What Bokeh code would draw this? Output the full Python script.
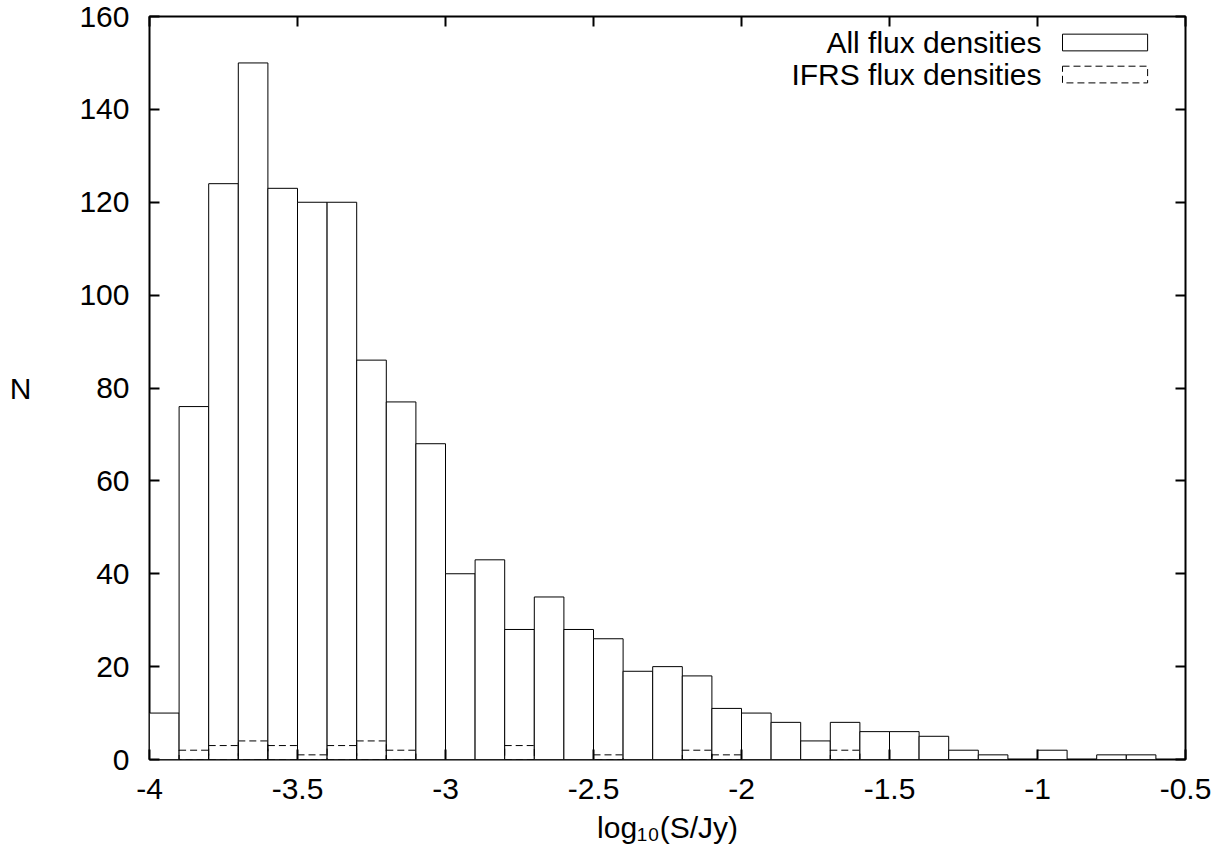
from bokeh.plotting import figure
from bokeh.models import Label, LinearAxis, FixedTicker, Range1d
from bokeh.embed import file_html
from bokeh.resources import INLINE

# ---- data ----
bin_left = [-4.0, -3.9, -3.8, -3.7, -3.6, -3.5, -3.4, -3.3, -3.2, -3.1,
            -3.0, -2.9, -2.8, -2.7, -2.6, -2.5, -2.4, -2.3, -2.2, -2.1,
            -2.0, -1.9, -1.8, -1.7, -1.6, -1.5, -1.4, -1.3, -1.2, -1.1,
            -1.0, -0.9, -0.8, -0.7]
bin_width = 0.1
all_counts = [10, 76, 124, 150, 123, 120, 120, 86, 77, 68,
              40, 43, 28, 35, 28, 26, 19, 20, 18, 11,
              10, 8, 4, 8, 6, 6, 5, 2, 1, 0,
              2, 0, 1, 1]
ifrs_counts = [0, 2, 3, 4, 3, 1, 3, 4, 2, 0,
               0, 0, 3, 0, 0, 1, 0, 0, 2, 1,
               0, 0, 0, 2, 0, 0, 0, 0, 0, 0,
               0, 0, 0, 0]
x_ticks = [-4, -3.5, -3, -2.5, -2, -1.5, -1, -0.5]
x_tick_labels = ["-4", "-3.5", "-3", "-2.5", "-2", "-1.5", "-1", "-0.5"]
y_ticks = [0, 20, 40, 60, 80, 100, 120, 140, 160]
y_tick_labels = ["0", "20", "40", "60", "80", "100", "120", "140", "160"]
series_names = ["All flux densities", "IFRS flux densities"]
y_title = "N"
x_title = "log\u2081\u2080(S/Jy)"

FONT = "Liberation Sans"
FS = "30px"

x0, x1, y0, y1 = -4, -0.5, 0, 160
p = figure(width=1220, height=856, x_range=Range1d(x0, x1), y_range=Range1d(y0, y1),
           output_backend="svg", toolbar_location=None,
           min_border_left=149, min_border_right=35, min_border_top=16, min_border_bottom=97)
p.xgrid.visible = False
p.ygrid.visible = False
p.outline_line_color = "black"
p.outline_line_width = 2
p.outline_line_alpha = 1
p.background_fill_color = "white"
p.border_fill_color = "white"

def style_axis(ax):
    ax.axis_line_color = None
    ax.major_tick_in = 10
    ax.major_tick_out = 0
    ax.major_tick_line_width = 2
    ax.major_tick_line_color = "black"
    ax.minor_tick_line_color = None
    ax.major_label_text_font = FONT
    ax.major_label_text_font_size = FS
    ax.major_label_text_color = "black"
    ax.axis_label_text_font = FONT
    ax.axis_label_text_font_size = FS
    ax.axis_label_text_font_style = "normal"
    ax.axis_label_text_color = "black"

p.xaxis.ticker = FixedTicker(ticks=x_ticks)
p.yaxis.ticker = FixedTicker(ticks=y_ticks)
p.xaxis.major_label_overrides = {t: l for t, l in zip(x_ticks, x_tick_labels)}
p.yaxis.major_label_overrides = {t: l for t, l in zip(y_ticks, y_tick_labels)}
for ax in p.xaxis:
    style_axis(ax)
    ax.major_label_standoff = 19
    ax.axis_label = x_title
    ax.axis_label_standoff = 9
for ax in p.yaxis:
    style_axis(ax)
    ax.major_label_standoff = 20
    ax.axis_label = y_title
    ax.axis_label_orientation = "horizontal"
    ax.axis_label_standoff = 45

top = LinearAxis(ticker=FixedTicker(ticks=x_ticks),
                 major_label_overrides={t: "" for t in x_ticks}, major_label_standoff=0)
style_axis(top)
p.add_layout(top, "above")
right = LinearAxis(ticker=FixedTicker(ticks=y_ticks),
                   major_label_overrides={t: "" for t in y_ticks}, major_label_standoff=0)
style_axis(right)
p.add_layout(right, "right")

# ---- bars ----
lefts = [b for b, c in zip(bin_left, all_counts) if c > 0]
tops = [c for c in all_counts if c > 0]
p.quad(left=lefts, right=[l + bin_width for l in lefts], bottom=0, top=tops,
       fill_color="white", line_color="black", line_width=1)

ilefts = [b for b, c in zip(bin_left, ifrs_counts) if c > 0]
itops = [c for c in ifrs_counts if c > 0]
p.quad(left=ilefts, right=[l + bin_width for l in ilefts], bottom=0, top=itops,
       fill_color=None, line_color="black", line_width=1, line_dash="7 4")

# ---- legend (manual, gnuplot style: text then sample) ----
leg_y = [154.4, 147.5]
sw_left, sw_right = -0.9155, -0.628
sw_half = 1.8
dashes = ["solid", "7 4"]
for name, yy, dsh in zip(series_names, leg_y, dashes):
    p.add_layout(Label(x=x1, y=yy, x_offset=-144, text=name, text_align="right",
                       text_baseline="middle", text_font=FONT, text_font_size=FS,
                       text_color="black"))
    p.quad(left=[sw_left], right=[sw_right], bottom=[yy - sw_half], top=[yy + sw_half],
           fill_color="white" if dsh == "solid" else None, line_color="black",
           line_width=1, line_dash=dsh)

open("out.html", "w").write(file_html(p, INLINE))
